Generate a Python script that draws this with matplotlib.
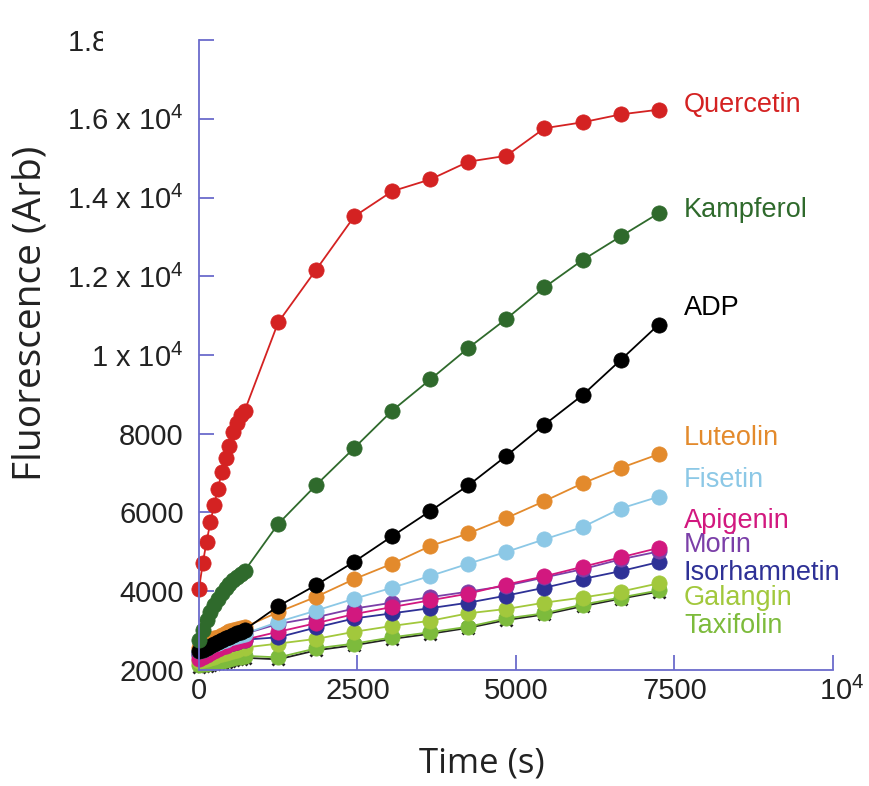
import matplotlib.pyplot as plt
from matplotlib.patches import Rectangle
from matplotlib.transforms import ScaledTranslation

plt.rcParams["mathtext.fontset"] = "custom"
plt.rcParams["mathtext.rm"] = "Liberation Sans"
plt.rcParams["mathtext.it"] = "Liberation Sans:italic"

# time points (s): dense early reads, then every 600 s
time_s = [0, 60, 120, 180, 240, 300, 360, 420, 480, 540, 600, 660, 720,
          1250, 1850, 2450, 3050, 3650, 4250, 4850, 5450, 6050, 6650, 7250]

quercetin = [4060, 4710, 5260, 5750, 6200, 6600, 7040, 7390, 7690, 8040, 8280, 8480, 8580,
             10830, 12170, 13520, 14160, 14460, 14910, 15060, 15760, 15910, 16110, 16230]
kampferol = [2770, 3020, 3270, 3470, 3650, 3810, 3950, 4070, 4180, 4280, 4370, 4450, 4520,
             5710, 6700, 7640, 8590, 9380, 10180, 10920, 11720, 12410, 13010, 13600]
adp = [2470, 2520, 2570, 2620, 2670, 2720, 2770, 2810, 2850, 2890, 2930, 2970, 3020,
       3620, 4160, 4750, 5400, 6040, 6690, 7440, 8230, 8980, 9870, 10770]
luteolin = [2570, 2630, 2690, 2750, 2800, 2850, 2900, 2940, 2980, 3010, 3040, 3070, 3090,
            3470, 3860, 4310, 4700, 5150, 5470, 5860, 6290, 6740, 7130, 7480]
fisetin = [2470, 2520, 2570, 2610, 2650, 2690, 2730, 2770, 2800, 2830, 2860, 2890, 2920,
           3220, 3510, 3810, 4090, 4390, 4700, 5000, 5320, 5630, 6100, 6400]
apigenin = [2270, 2330, 2390, 2440, 2490, 2540, 2580, 2620, 2660, 2690, 2720, 2750, 2770,
            2970, 3190, 3420, 3600, 3770, 3940, 4170, 4380, 4620, 4860, 5100]
morin = [2420, 2470, 2520, 2570, 2620, 2670, 2710, 2750, 2790, 2830, 2860, 2890, 2920,
         3170, 3340, 3560, 3710, 3850, 3990, 4140, 4350, 4560, 4810, 5010]
isorhamnetin = [2370, 2410, 2450, 2490, 2530, 2570, 2600, 2630, 2660, 2690, 2720, 2750, 2770,
                2830, 3080, 3310, 3440, 3570, 3710, 3890, 4090, 4310, 4510, 4740]
galangin = [2220, 2250, 2280, 2310, 2340, 2370, 2400, 2430, 2460, 2490, 2520, 2550, 2570,
            2670, 2790, 2970, 3120, 3250, 3440, 3550, 3710, 3840, 3990, 4200]
taxifolin = [2120, 2140, 2160, 2180, 2200, 2220, 2240, 2260, 2280, 2300, 2320, 2340, 2360,
             2320, 2550, 2670, 2830, 2960, 3100, 3310, 3440, 3660, 3840, 4020]
control = [2070, 2090, 2110, 2130, 2150, 2170, 2190, 2210, 2230, 2250, 2270, 2290, 2310,
           2270, 2500, 2630, 2790, 2920, 3070, 3270, 3410, 3620, 3810, 3990]

# baseline heights (data units) of the names written on the right
label_y = {"Quercetin": 16180, "Kampferol": 13510, "ADP": 11020, "Luteolin": 7720,
           "Fisetin": 6650, "Apigenin": 5610, "Morin": 5000, "Isorhamnetin": 4290,
           "Galangin": 3650, "Taxifolin": 2940}

# bottom series first so upper ones overlay
series = [
    ("Taxifolin", taxifolin, "#7dbb3c"),
    ("Galangin", galangin, "#a2c83c"),
    ("Isorhamnetin", isorhamnetin, "#2e3196"),
    ("Morin", morin, "#7b3fa8"),
    ("Apigenin", apigenin, "#d2187f"),
    ("Fisetin", fisetin, "#8cc8e6"),
    ("Luteolin", luteolin, "#e38a2c"),
    ("ADP", adp, "#000000"),
    ("Kampferol", kampferol, "#2f6a2c"),
    ("Quercetin", quercetin, "#d42222"),
]

fig = plt.figure(figsize=(8.7, 7.86), dpi=100)
ax = fig.add_axes([0.2287, 0.1476, 0.7287, 0.8015])

axis_col = "#6b6bcc"

# black control line with x markers sitting under Taxifolin
ax.plot(time_s, control, color="#222222", lw=1.3, marker="x", ms=8, mew=2, clip_on=False)

for name, vals, col in series:
    ax.plot(time_s, vals, color=col, lw=1.3, marker="o", ms=11, mec=col, mew=0.5, clip_on=False)
    ax.text(7650, label_y[name], name, color=col, fontsize=19.5, family="Liberation Sans",
            va="baseline", ha="left")

ax.set_xlim(0, 10000)
ax.set_ylim(2000, 18000)

ax.set_xticks([0, 2500, 5000, 7500, 10000])
ax.set_xticklabels(["0", "2500", "5000", "7500", r"10$^4$"])
yt = [2000, 4000, 6000, 8000, 10000, 12000, 14000, 16000, 18000]
ax.set_yticks(yt)
ax.set_yticklabels(["2000", "4000", "6000", "8000", r"1 x 10$^4$", r"1.2 x 10$^4$",
                    r"1.4 x 10$^4$", r"1.6 x 10$^4$", r"1.8 x 10$^4$"])

for s in ["top", "right"]:
    ax.spines[s].set_visible(False)
for s in ["left", "bottom"]:
    ax.spines[s].set_color(axis_col)
    ax.spines[s].set_linewidth(1.3)

ax.tick_params(direction="in", length=11, width=1.3, color=axis_col, labelsize=21,
               labelcolor="#222222")
ax.tick_params(axis="x", pad=5)
ax.tick_params(axis="y", pad=11)
for lab in ax.get_xticklabels() + ax.get_yticklabels():
    lab.set_family("Liberation Sans")

# the 10^4 label sits a little right of its tick
last = ax.xaxis.get_major_ticks()[-1].label1
last.set_transform(last.get_transform() + ScaledTranslation(0.09, 0, fig.dpi_scale_trans))

fig.text(482 / 870, 1 - 763 / 786, "Time (s)", fontsize=25, family="Open Sans",
         ha="center", va="center", color="#222222")
fig.text(31 / 870, 1 - 313 / 786, "Fluorescence (Arb)", fontsize=28, family="Open Sans",
         rotation=90, ha="center", va="center", color="#222222")

# top tick label is partly hidden in the source picture
fig.patches.append(Rectangle((0.118, 0.92), 0.102, 0.075, transform=fig.transFigure,
                             facecolor="white", edgecolor="none", zorder=10))

fig.savefig("out.png", dpi=100)
